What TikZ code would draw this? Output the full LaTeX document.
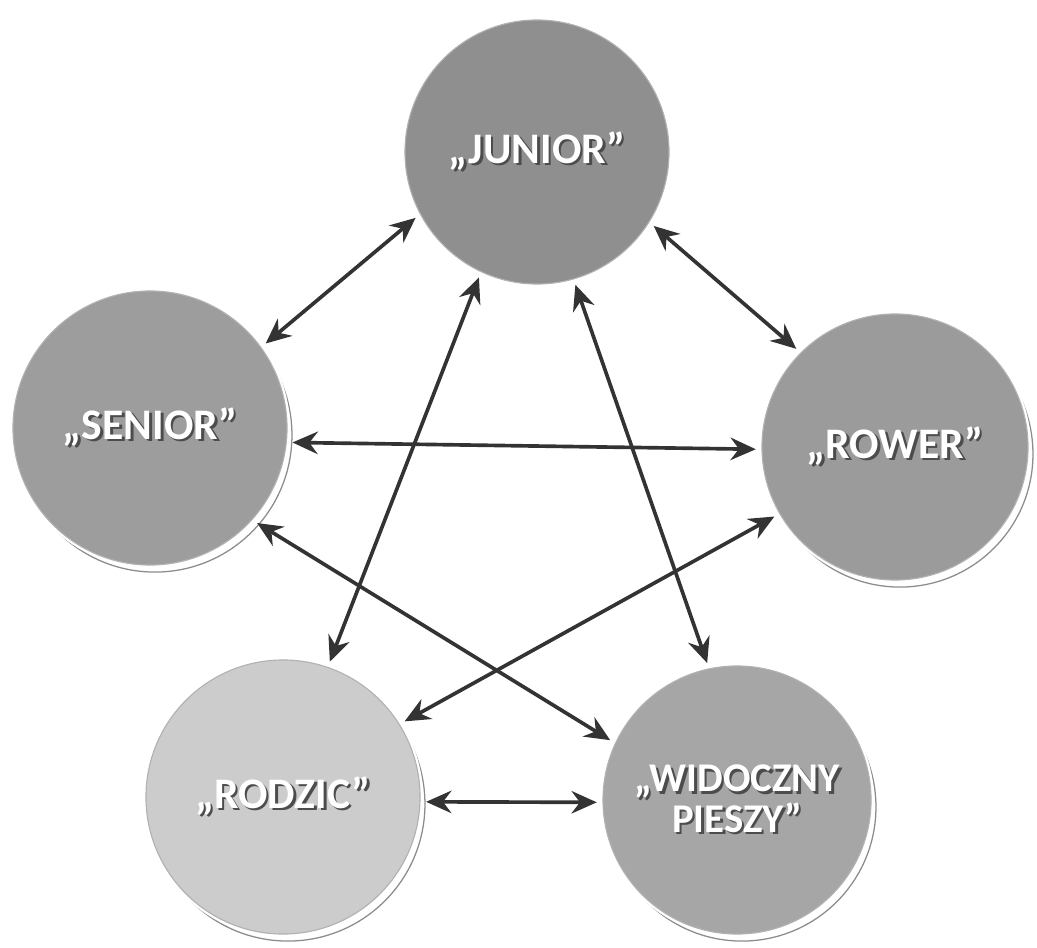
\documentclass[tikz,border=0pt]{standalone}
\usepackage{fontspec}
\setmainfont{Carlito}
\usepackage{tikz}
\usetikzlibrary{arrows.meta,shadows}

\definecolor{juniorgray}{HTML}{8F8F8F}
\definecolor{seniorgray}{HTML}{9D9D9D}
\definecolor{rowergray}{HTML}{9B9B9B}
\definecolor{rodzicgray}{HTML}{CCCCCC}
\definecolor{pieszygray}{HTML}{A6A6A6}
\definecolor{linkgray}{HTML}{333333}

\newcommand\embossed[1]{\makebox[0pt][l]{\kern1.8pt\raisebox{-1.8pt}{\textcolor{black!70}{#1}}}\textcolor{white}{#1}}

\begin{document}
\begin{tikzpicture}[x=0.025cm,y=-0.025cm,line cap=round,line join=round,
  ball/.style={circle,fill=#1,draw=black!30,line width=.8pt,inner sep=0pt,
    font=\fontsize{31}{33}\selectfont\bfseries,align=center},
  ringed/.style={drop shadow={shadow xshift=3.5pt,shadow yshift=-5pt,
    fill=white,draw=black!45,line width=.9pt,opacity=1},
    preaction={draw=white,line width=4pt}},
  link/.style={{Stealth[length=18pt,width=16pt,inset=6pt]}-{Stealth[length=18pt,width=16pt,inset=6pt]},
    draw=linkgray,line width=2.6pt,shorten <=4pt,shorten >=4pt}]
\useasboundingbox (0,0) rectangle (1037,947);
% circles
\node[ball=juniorgray,minimum size=6.6cm] (junior) at (537,152) {\embossed{„JUNIOR”}};
\node[ball=seniorgray,ringed,minimum size=6.85cm] (senior) at (150,428) {\embossed{„SENIOR”}};
\node[ball=rowergray,ringed,minimum size=6.65cm] (rower) at (895,447) {\embossed{„ROWER”}};
\node[ball=rodzicgray,ringed,minimum size=6.85cm] (rodzic) at (283,797) {\embossed{„RODZIC”}};
\node[ball=pieszygray,ringed,minimum size=6.7cm,font=\fontsize{29}{29}\selectfont\bfseries] (pieszy) at (737,800) {\embossed{„WIDOCZNY}\\\embossed{PIESZY”}};
% arrows
\draw[link] (junior.208) -- (senior.36);
\draw[link] (junior.328) -- (rower.135);
\draw[link] (senior.354) -- (rower.181);
\draw[link] (senior.318) -- (pieszy.155);
\draw[link] (rower.210) -- (rodzic.32);
\draw[link] (junior.245) -- (rodzic.71);
\draw[link] (junior.286) -- (pieszy.102);
\draw[link] (rodzic.358) -- (pieszy.181);
\end{tikzpicture}
\end{document}
